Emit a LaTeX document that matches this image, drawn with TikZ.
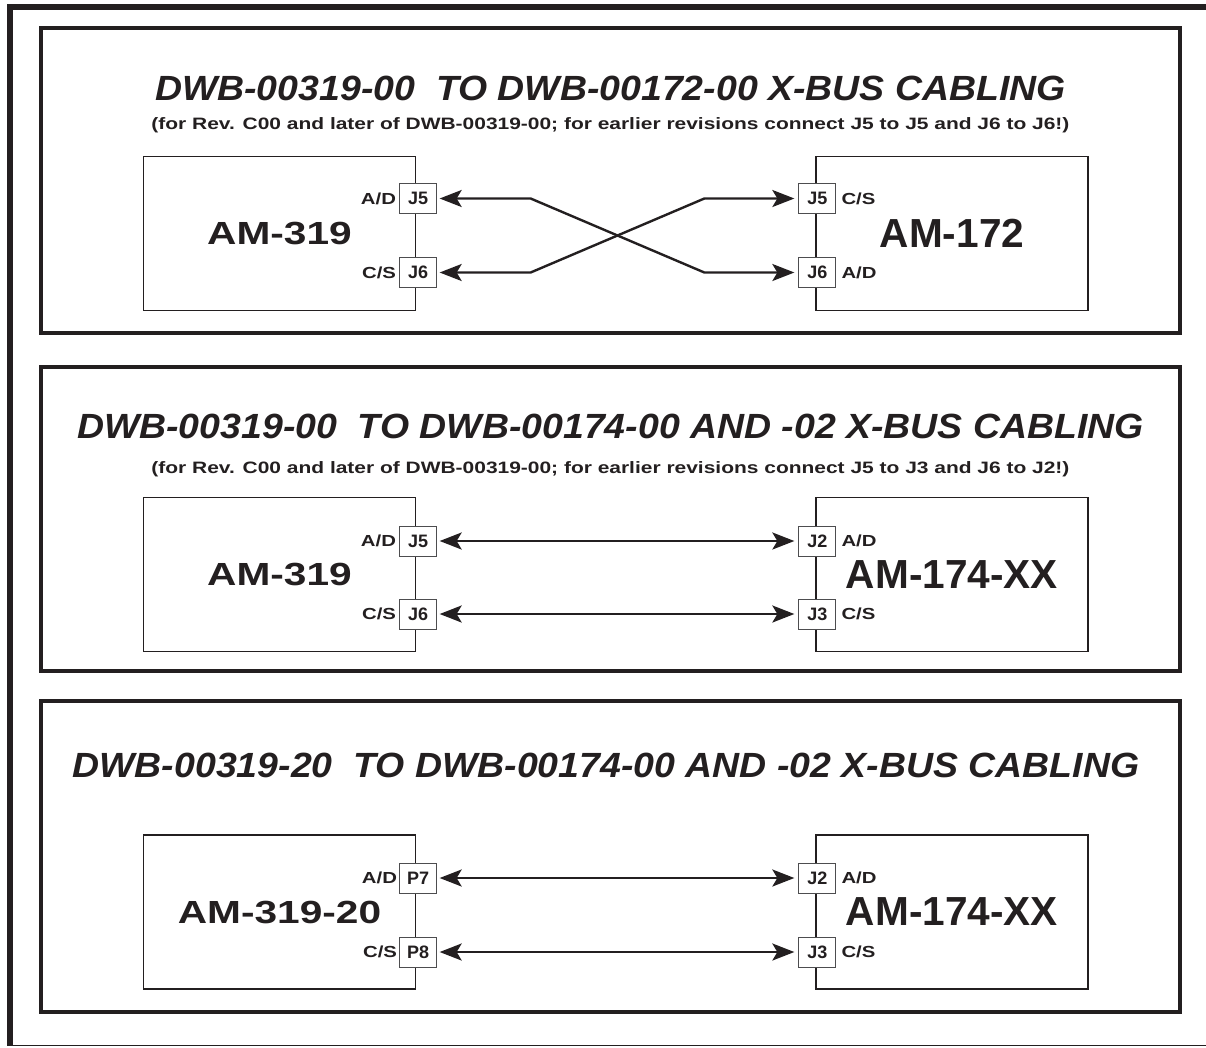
\documentclass[tikz,border=0pt]{standalone}
\usepackage{fontspec}
\setmainfont{Liberation Sans}
\newfontfamily\wideface[FakeStretch=1.27]{Liberation Sans}
\newfontfamily\headface[FakeStretch=1.07]{Liberation Sans}
\usetikzlibrary{arrows.meta,positioning,calc}
\definecolor{XBInk}{HTML}{231F20}
\definecolor{XBGrey}{HTML}{4D4D4F}

\begin{document}
\begin{tikzpicture}[x=1pt, y=-1pt, color=XBInk, font=\bfseries, node distance=3pt and 3pt,
  panel/.style={draw=XBInk, line width=3.2pt, minimum width=1139pt, inner sep=0pt},
  board/.style={draw=XBInk, line width=1.3pt, minimum width=272pt, minimum height=154pt, inner sep=0pt, font=\fontsize{40.6}{40.6}\selectfont\bfseries},
  mainboard/.style={board, font=\wideface\fontsize{32}{32}\selectfont\bfseries},
  jack/.style={draw=XBGrey, line width=1pt, fill=white, minimum width=37pt, minimum height=30pt, inner sep=0pt, font=\fontsize{18}{18}\selectfont\bfseries},
  sig/.style={inner sep=0pt, font=\wideface\fontsize{16}{16}\selectfont\bfseries},
  heading/.style={anchor=base, inner sep=0pt, font=\headface\fontsize{35}{35}\selectfont\bfseries\itshape},
  note/.style={anchor=base, inner sep=0pt, font=\wideface\fontsize{16.5}{16.5}\selectfont\bfseries},
  cable/.style={{Stealth[length=22pt, width=17pt, inset=5pt]}-{Stealth[length=22pt, width=17pt, inset=5pt]}, line width=2.4pt, draw=XBInk, shorten <=2.5pt, shorten >=4pt}]
\useasboundingbox (0,0) rectangle (1206,1047);
% outer frame
\draw[line width=6pt] (1206,7) -- (10,7) -- (10,1045);
\draw[line width=1pt] (7,1045) -- (1206,1045);

% panel 1: crossed cabling
\node[panel, minimum height=305pt] (p1) at (610.5,180.5) {};
\node[heading] (p1title) at (610.5,100) {DWB-00319-00~~TO DWB-00172-00 X-BUS CABLING};
\node[note] (p1note) at (610.5,129) {(for Rev. C00 and later of DWB-00319-00; for earlier revisions connect J5 to J5 and J6 to J6!)};
\node[mainboard] (m1) at (279.5,233.5) {AM-319};
\node[board] (s1) at (952,233.5) {AM-172};
\node[jack] (m1a) at ($(m1.east)+(2,-35)$) {J5};
\node[jack] (m1b) at ($(m1.east)+(2,39)$) {J6};
\node[jack] (s1a) at ($(s1.west)+(2,-35)$) {J5};
\node[jack] (s1b) at ($(s1.west)+(2,39)$) {J6};
\node[sig, left=3pt of m1a] (m1aname) {A/D};
\node[sig, left=3pt of m1b] (m1bname) {C/S};
\node[sig, right=5pt of s1a] (s1aname) {C/S};
\node[sig, right=5pt of s1b] (s1bname) {A/D};
\draw[cable] (m1a.east) -- ++(93.5,0) -- ($(s1b.west)+(-94,0)$) -- (s1b.west);
\draw[cable] (m1b.east) -- ++(93.5,0) -- ($(s1a.west)+(-94,0)$) -- (s1a.west);

% panel 2
\node[panel, minimum height=304pt] (p2) at (610.5,519) {};
\node[heading] (p2title) at (610.5,438) {DWB-00319-00~~TO DWB-00174-00 AND -02 X-BUS CABLING};
\node[note] (p2note) at (610.5,473) {(for Rev. C00 and later of DWB-00319-00; for earlier revisions connect J5 to J3 and J6 to J2!)};
\node[mainboard] (m2) at (279.5,574.5) {AM-319};
\node[board] (s2) at (952,574.5) {AM-174-XX};
\node[jack] (m2a) at ($(m2.east)+(2,-33.5)$) {J5};
\node[jack] (m2b) at ($(m2.east)+(2,39.5)$) {J6};
\node[jack] (s2a) at ($(s2.west)+(2,-33.5)$) {J2};
\node[jack] (s2b) at ($(s2.west)+(2,39.5)$) {J3};
\node[sig, left=3pt of m2a] (m2aname) {A/D};
\node[sig, left=3pt of m2b] (m2bname) {C/S};
\node[sig, right=5pt of s2a] (s2aname) {A/D};
\node[sig, right=5pt of s2b] (s2bname) {C/S};
\draw[cable] (m2a) -- (s2a);
\draw[cable] (m2b) -- (s2b);

% panel 3
\node[panel, minimum height=311pt] (p3) at (610.5,856.5) {};
\node[heading] (p3title) at (606,777) {DWB-00319-20~~TO DWB-00174-00 AND -02 X-BUS CABLING};
\node[mainboard] (m3) at (279.5,912) {AM-319-20};
\node[board] (s3) at (952,912) {AM-174-XX};
\node[jack] (m3a) at ($(m3.east)+(2,-34)$) {P7};
\node[jack] (m3b) at ($(m3.east)+(2,40)$) {P8};
\node[jack] (s3a) at ($(s3.west)+(2,-34)$) {J2};
\node[jack] (s3b) at ($(s3.west)+(2,40)$) {J3};
\node[sig, left=2pt of m3a] (m3aname) {A/D};
\node[sig, left=2pt of m3b] (m3bname) {C/S};
\node[sig, right=5pt of s3a] (s3aname) {A/D};
\node[sig, right=5pt of s3b] (s3bname) {C/S};
\draw[cable] (m3a) -- (s3a);
\draw[cable] (m3b) -- (s3b);
\end{tikzpicture}
\end{document}
